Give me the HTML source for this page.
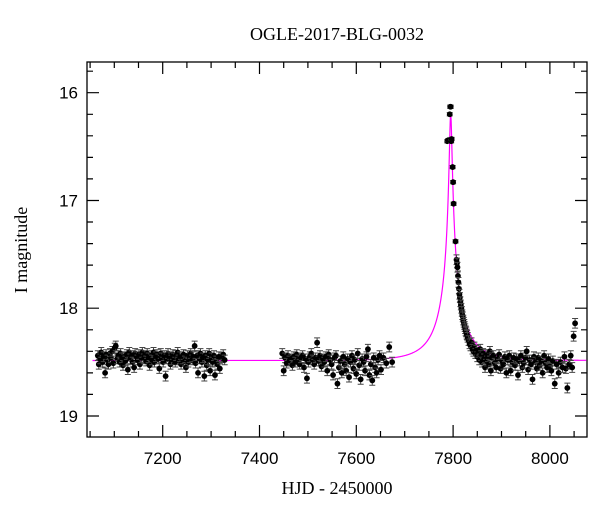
<!DOCTYPE html>
<html><head><meta charset="utf-8"><style>
body{margin:0;background:#fff}
svg{display:block;font-family:"Liberation Serif",serif}
</style></head><body>
<svg id="c" width="600" height="512" viewBox="0 0 600 512">
<text x="337" y="40" text-anchor="middle" font-size="18">OGLE-2017-BLG-0032</text>
<text x="337" y="494" text-anchor="middle" font-size="18">HJD - 2450000</text>
<text x="27" y="250" text-anchor="middle" font-size="18" transform="rotate(-90 27 250)">I magnitude</text>
<g id="axes"></g>
<g id="model"></g>
<g id="pts"></g>
</svg>
<script>
const xTicks=[7200,7400,7600,7800,8000];
const yTicks=[16,17,18,19];
const t1=[7066,7068,7071,7073,7076,7078,7081,7083,7086,7088,7091,7093,7096,7098,7101,7103,7106,7108,7111,7113,7116,7118,7121,7123,7126,7128,7131,7133,7136,7138,7141,7143,7146,7148,7151,7153,7156,7158,7161,7163,7166,7168,7171,7173,7176,7178,7181,7183,7186,7188,7191,7193,7196,7198,7201,7203,7206,7208,7211,7213,7216,7218,7221,7223,7226,7228,7231,7233,7236,7238,7241,7243,7246,7248,7251,7253,7256,7258,7261,7263,7266,7268,7271,7273,7276,7278,7281,7283,7286,7288,7291,7293,7296,7298,7301,7303,7306,7308,7311,7313,7316,7318,7322,7325,7328];
const m1=[18.44,18.52,18.47,18.41,18.50,18.45,18.60,18.43,18.48,18.52,18.42,18.46,18.40,18.51,18.37,18.35,18.47,18.44,18.50,18.42,18.46,18.53,18.45,18.49,18.43,18.57,18.41,18.47,18.44,18.50,18.55,18.42,18.45,18.48,18.43,18.52,18.46,18.41,18.47,18.44,18.49,18.42,18.46,18.53,18.44,18.48,18.41,18.50,18.45,18.43,18.47,18.56,18.42,18.46,18.50,18.44,18.63,18.47,18.42,18.45,18.52,18.48,18.43,18.46,18.50,18.44,18.41,18.48,18.45,18.52,18.47,18.43,18.49,18.55,18.44,18.50,18.46,18.42,18.48,18.45,18.35,18.51,18.44,18.60,18.47,18.42,18.50,18.46,18.63,18.44,18.53,18.48,18.42,18.58,18.46,18.50,18.44,18.62,18.49,18.52,18.45,18.56,18.46,18.43,18.48];
const t2=[7447,7450,7453,7456,7459,7462,7465,7468,7471,7474,7477,7480,7483,7486,7489,7492,7495,7498,7501,7504,7507,7510,7513,7516,7519,7522,7525,7528,7531,7534,7537,7540,7543,7546,7549,7552,7555,7558,7561,7564,7567,7570,7573,7576,7579,7582,7585,7588,7591,7594,7597,7600,7603,7606,7609,7612,7615,7618,7621,7624,7627,7630,7633,7636,7639,7642,7645,7648,7651,7656,7662,7668,7674];
const m2=[18.42,18.58,18.46,18.51,18.44,18.49,18.47,18.53,18.45,18.50,18.43,18.48,18.52,18.46,18.44,18.55,18.47,18.65,18.50,18.45,18.42,18.48,18.52,18.46,18.32,18.49,18.44,18.54,18.47,18.50,18.45,18.58,18.43,18.48,18.52,18.62,18.46,18.44,18.70,18.55,18.49,18.60,18.45,18.52,18.58,18.47,18.64,18.50,18.44,18.56,18.48,18.61,18.42,18.53,18.66,18.47,18.50,18.58,18.45,18.38,18.62,18.52,18.67,18.46,18.55,18.60,18.48,18.44,18.57,18.46,18.51,18.36,18.50];
const t3=[7788,7790,7793,7794,7795,7796,7797,7799,7800,7801,7805,7807,7808,7809,7810,7811,7812,7813,7814,7815,7816,7817,7818,7819,7820,7821,7822,7823,7824,7825,7826,7827,7828,7829,7830,7832,7834,7836,7838,7840,7842,7844,7846,7848,7850,7852,7854,7856,7858,7860,7862,7864,7866,7868,7870,7872,7874,7876,7878,7880,7883,7886,7889,7892,7895,7898,7901,7904,7907,7910,7913,7916,7919,7922,7925,7928,7931,7934,7937,7940,7943,7946,7949,7952,7955,7958,7961,7964,7967,7970,7973,7976,7979,7982,7985,7988,7991,7994,7997,8000,8003,8006,8010,8014,8018,8022,8026,8030,8033,8036,8040,8043,8046,8049,8052];
const m3=[16.45,16.44,16.20,16.13,16.13,16.45,16.43,16.69,16.83,17.03,17.38,17.55,17.58,17.62,17.70,17.76,17.82,17.87,17.90,17.94,17.97,18.00,18.03,18.06,18.08,18.11,18.13,18.15,18.17,18.19,18.21,18.22,18.24,18.25,18.27,18.30,18.33,18.35,18.32,18.38,18.40,18.36,18.42,18.39,18.45,18.41,18.48,18.38,18.44,18.50,18.42,18.47,18.55,18.43,18.49,18.45,18.52,18.40,18.58,18.46,18.44,18.51,18.55,18.47,18.43,18.56,18.49,18.52,18.45,18.60,18.48,18.44,18.58,18.50,18.46,18.53,18.47,18.62,18.49,18.44,18.55,18.51,18.46,18.40,18.57,18.48,18.52,18.66,18.45,18.50,18.56,18.46,18.53,18.49,18.60,18.44,18.51,18.55,18.47,18.54,18.58,18.49,18.70,18.52,18.60,18.50,18.55,18.45,18.56,18.74,18.52,18.44,18.55,18.26,18.14];
const base=18.485, t0=7795, u0=0.04, tE=65, fs=0.30;
const L=87,R=587,T=62,B=437, X0=7043.6, X1=8076.6, Y0=15.715, Y1=19.195;
const sx=t=>L+(t-X0)/(X1-X0)*(R-L);
const sy=m=>T+(m-Y0)/(Y1-Y0)*(B-T);
const NS='http://www.w3.org/2000/svg';
function mk(tag,attrs,parent){const e=document.createElementNS(NS,tag);for(const k in attrs)e.setAttribute(k,attrs[k]);parent.appendChild(e);return e;}
const ax=document.getElementById('axes');
const fr=mk('rect',{x:L,y:T,width:R-L,height:B-T,fill:'none',stroke:'#000','stroke-width':1.3},ax);


let d='';
for(let v=7050;v<=8050;v+=50){const x=sx(v).toFixed(1);const len=(v%200===0)?12:6;d+=`M${x},${B}v${-len}M${x},${T}v${len}`;}
for(let v=15.8;v<=19.15;v+=0.2){const y=sy(v).toFixed(1);const len=(Math.abs(v-Math.round(v))<0.01)?12:6;d+=`M${L},${y}h${len}M${R},${y}h${-len}`;}
const tk=mk('path',{d:d,stroke:'#000','stroke-width':1.2,fill:'none'},ax);


xTicks.forEach(v=>{const t=mk('text',{x:sx(v),y:464,'text-anchor':'middle','font-size':17,'font-family':'Liberation Sans, sans-serif'},ax);t.textContent=v;

});
yTicks.forEach(v=>{const t=mk('text',{x:78,y:sy(v)+6,'text-anchor':'end','font-size':17,'font-family':'Liberation Sans, sans-serif'},ax);t.textContent=v;

});
// model
let p='';
for(let t=7055;t<=8075;t+=0.5){const u=Math.sqrt(u0*u0+((t-t0)/tE)**2);const A=(u*u+2)/(u*Math.sqrt(u*u+4));const F=fs*A+1-fs;const m=base-2.5*Math.log10(F);p+=(p?'L':'M')+sx(t).toFixed(2)+','+sy(m).toFixed(2);}
const ml=mk('path',{d:p,stroke:'#ff00ff','stroke-width':1.2,fill:'none'},document.getElementById('model'));


// points
const pg=document.getElementById('pts');
function plot(ts,ms){ts.forEach((t,i)=>{const x=sx(t),y=sy(ms[i]);const e=(ms[i]<17.5?0.015:0.045)*(B-T)/(Y1-Y0);
const g=mk('g',{},pg);


mk('path',{d:`M${x},${y-e}V${y+e}M${x-3},${y-e}h6M${x-3},${y+e}h6`,stroke:'#444','stroke-width':1},g);
mk('circle',{cx:x,cy:y,r:2.9,fill:'#000'},g);});}
plot(t1,m1);plot(t2,m2);plot(t3,m3);
</script>
</body></html>
